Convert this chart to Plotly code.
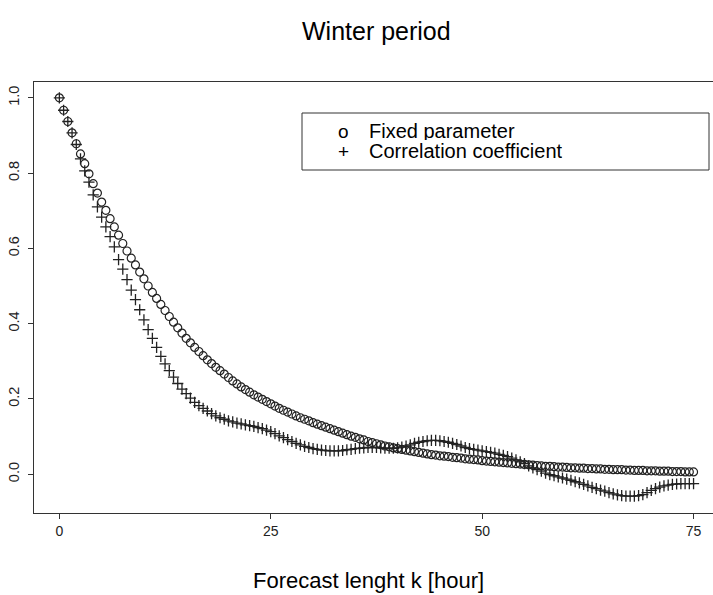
import plotly.graph_objects as go

# Forecast horizon in hours (half-hour steps)
k_hours = [i * 0.5 for i in range(151)]

# Autocorrelation with the fixed parameter model (plotted with "o")
fixed_parameter = [
    1.000, 0.967, 0.937, 0.907, 0.878, 0.851, 0.825, 0.798, 0.772, 0.747,
    0.723, 0.701, 0.679, 0.657, 0.635, 0.613, 0.593, 0.574, 0.556, 0.537,
    0.519, 0.500, 0.483, 0.467, 0.451, 0.435, 0.419, 0.404, 0.389, 0.375,
    0.361, 0.349, 0.337, 0.326, 0.315, 0.304, 0.294, 0.284, 0.275, 0.266,
    0.257, 0.248, 0.240, 0.232, 0.225, 0.218, 0.211, 0.205, 0.199, 0.193,
    0.187, 0.181, 0.175, 0.170, 0.165, 0.160, 0.155, 0.150, 0.146, 0.142,
    0.137, 0.133, 0.129, 0.125, 0.121, 0.117, 0.113, 0.109, 0.105, 0.101,
    0.098, 0.094, 0.091, 0.087, 0.084, 0.081, 0.078, 0.075, 0.073, 0.070,
    0.068, 0.066, 0.064, 0.062, 0.060, 0.058, 0.056, 0.054, 0.052, 0.051,
    0.049, 0.048, 0.047, 0.045, 0.044, 0.043, 0.041, 0.040, 0.039, 0.038,
    0.036, 0.035, 0.034, 0.033, 0.032, 0.031, 0.030, 0.029, 0.028, 0.027,
    0.026, 0.025, 0.024, 0.023, 0.022, 0.021, 0.021, 0.020, 0.019, 0.019,
    0.018, 0.017, 0.017, 0.016, 0.016, 0.015, 0.015, 0.014, 0.014, 0.013,
    0.013, 0.012, 0.012, 0.012, 0.011, 0.011, 0.010, 0.010, 0.010, 0.009,
    0.009, 0.009, 0.008, 0.008, 0.008, 0.007, 0.007, 0.007, 0.006, 0.006,
    0.006,
]

# Autocorrelation from the correlation coefficient model (plotted with "+")
correlation_coefficient = [
    1.000, 0.967, 0.937, 0.907, 0.876, 0.838, 0.806, 0.776, 0.742, 0.710,
    0.683, 0.657, 0.631, 0.604, 0.570, 0.545, 0.517, 0.489, 0.464, 0.437,
    0.410, 0.384, 0.361, 0.337, 0.313, 0.293, 0.275, 0.258, 0.241, 0.226,
    0.214, 0.202, 0.191, 0.182, 0.175, 0.168, 0.161, 0.155, 0.150, 0.146,
    0.142, 0.139, 0.136, 0.134, 0.131, 0.129, 0.127, 0.124, 0.121, 0.117,
    0.113, 0.108, 0.102, 0.097, 0.092, 0.087, 0.082, 0.078, 0.074, 0.071,
    0.068, 0.066, 0.064, 0.063, 0.062, 0.062, 0.062, 0.063, 0.065, 0.066,
    0.068, 0.069, 0.070, 0.071, 0.071, 0.071, 0.070, 0.069, 0.069, 0.069,
    0.070, 0.072, 0.075, 0.078, 0.082, 0.085, 0.087, 0.089, 0.090, 0.090,
    0.089, 0.087, 0.085, 0.082, 0.079, 0.075, 0.071, 0.068, 0.066, 0.064,
    0.062, 0.060, 0.058, 0.056, 0.053, 0.050, 0.047, 0.043, 0.038, 0.033,
    0.028, 0.022, 0.017, 0.012, 0.008, 0.003, -0.001, -0.004, -0.007, -0.010,
    -0.013, -0.016, -0.020, -0.023, -0.027, -0.031, -0.035, -0.038, -0.042, -0.045,
    -0.049, -0.052, -0.055, -0.057, -0.058, -0.058, -0.058, -0.057, -0.054, -0.049,
    -0.043, -0.038, -0.034, -0.031, -0.029, -0.027, -0.026, -0.025, -0.025, -0.025,
    -0.025,
]

x_ticks = [0, 25, 50, 75]
y_ticks = [0.0, 0.2, 0.4, 0.6, 0.8, 1.0]
legend_labels = ["Fixed parameter", "Correlation coefficient"]
legend_symbols = ["o", "+"]

W, H = 713, 595
ML, MR, MT, MB = 34, 0, 82, 82
FONT = "Liberation Sans, Arial, Helvetica, sans-serif"
INK = "#222222"


def px(x):
    return (x - ML) / (W - ML - MR)


def py(y):
    return 1 - (y - MT) / (H - MT - MB)


fig = go.Figure()
fig.add_trace(go.Scatter(
    x=k_hours, y=fixed_parameter, mode="markers", name=legend_labels[0],
    marker=dict(symbol="circle-open", size=8, color=INK, line=dict(width=1.2, color=INK)),
))
fig.add_trace(go.Scatter(
    x=k_hours, y=correlation_coefficient, mode="markers", name=legend_labels[1],
    marker=dict(symbol="cross-thin-open", size=8, color=INK, line=dict(width=1.3, color=INK)),
))

annotations = [
    dict(text="Winter period", x=px(376.7), y=py(31), xref="paper", yref="paper",
         showarrow=False, xanchor="center", yanchor="middle",
         font=dict(family=FONT, size=25, color="black")),
    dict(text="Forecast lenght k [hour]", x=px(368), y=py(580), xref="paper", yref="paper",
         showarrow=False, xanchor="center", yanchor="middle",
         font=dict(family=FONT, size=22, color="black")),
]
for i, (sym, lab) in enumerate(zip(legend_symbols, legend_labels)):
    yy = 131 + i * 20
    annotations.append(dict(text=sym, x=px(343), y=py(yy), xref="paper", yref="paper",
                            showarrow=False, xanchor="center", yanchor="middle",
                            height=18, font=dict(family=FONT, size=19, color="black")))
    annotations.append(dict(text=lab, x=px(367), y=py(yy), xref="paper", yref="paper",
                            showarrow=False, xanchor="left", yanchor="middle",
                            height=18, font=dict(family=FONT, size=20, color="black")))

fig.update_layout(
    width=W, height=H, autosize=False,
    margin=dict(l=ML, r=MR, t=MT, b=MB),
    paper_bgcolor="white", plot_bgcolor="white",
    showlegend=False,
    font=dict(family=FONT, color="black"),
    annotations=annotations,
    shapes=[dict(type="rect", xref="paper", yref="paper",
                 x0=px(302), x1=px(709), y0=py(170), y1=py(113),
                 line=dict(color="#333333", width=1), fillcolor="rgba(0,0,0,0)")],
    xaxis=dict(range=[-3, 77.3], tickvals=x_ticks, ticktext=[str(v) for v in x_ticks],
               ticks="outside", ticklen=5, tickcolor="#333333",
               showline=True, linecolor="#333333", linewidth=1, mirror=True,
               showgrid=False, zeroline=False,
               tickfont=dict(family=FONT, size=14, color="#222222")),
    yaxis=dict(range=[-0.103, 1.042], tickvals=y_ticks, tickformat=".1f",
               tickangle=-90, ticks="outside", ticklen=5, tickcolor="#333333",
               showline=True, linecolor="#333333", linewidth=1,
               showgrid=False, zeroline=False, ticklabelstandoff=3,
               tickfont=dict(family=FONT, size=14.5, color="#222222")),
)

fig.write_html("out.html")
